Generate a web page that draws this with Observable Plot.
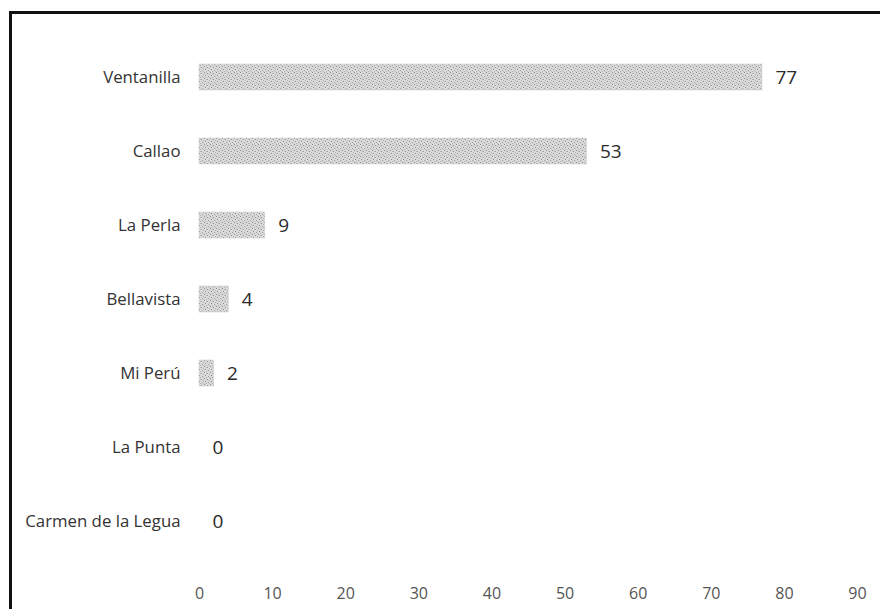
<!DOCTYPE html>
<html>
<head>
<meta charset="utf-8">
<script src="https://cdn.jsdelivr.net/npm/d3@7"></script>
<script src="https://cdn.jsdelivr.net/npm/@observablehq/plot@0.6"></script>
<style>
  html, body { margin: 0; padding: 0; background: #fff; }
  #wrap { position: relative; width: 880px; height: 609px; overflow: hidden; }
  #frame { position: absolute; left: 9px; top: 11px; width: 900px; height: 700px;
           border-left: 3px solid #111; border-top: 3px solid #111; pointer-events: none; }
  #chart { position: absolute; left: 0; top: 0; }
</style>
</head>
<body>
<div id="wrap">
  <div id="chart"></div>
  <div id="frame"></div>
</div>
<script>
const districts = ["Ventanilla", "Callao", "La Perla", "Bellavista", "Mi Perú", "La Punta", "Carmen de la Legua"];
const counts = [77, 53, 9, 4, 2, 0, 0];
const xTicks = [0, 10, 20, 30, 40, 50, 60, 70, 80, 90];

const data = districts.map((d, i) => ({district: d, value: counts[i]}));

const chart = Plot.plot({
  width: 880,
  height: 609,
  marginLeft: 199,
  marginRight: 23,
  marginTop: 39,
  marginBottom: 51,
  style: {fontFamily: "'Open Sans', 'Noto Sans', sans-serif", background: "transparent"},
  x: {domain: [0, 90], ticks: xTicks, label: null},
  y: {domain: districts, label: null, paddingInner: 0.65, paddingOuter: 0.325},
  marks: [
    Plot.barX(data, {y: "district", x: "value", fill: "url(#dither)", stroke: "#cfcfcf", strokeWidth: 0.6}),
    Plot.text(data, {y: "district", x: "value", text: d => String(d.value), dx: 13, textAnchor: "start",
      fontSize: 19, fill: "#2a2a2a"}),
    Plot.axisX({ticks: xTicks, tickSize: 0, tickPadding: 29, fontSize: 16, fill: "#555", label: null}),
    Plot.axisY({tickSize: 0, tickPadding: 19, fontSize: 16.8, fill: "#333", label: null})
  ]
});

// dithered gray pattern for the bars
const defs = d3.create("svg:defs");
const pat = defs.append("pattern").attr("id", "dither").attr("patternUnits", "userSpaceOnUse")
  .attr("width", 6).attr("height", 6);
pat.append("rect").attr("width", 6).attr("height", 6).attr("fill", "#dadada");
const dots = [[0,0,"#8c8c8c"],[3,1,"#9a9a9a"],[1,3,"#8c8c8c"],[4,4,"#a0a0a0"],[5,2,"#b0b0b0"],[2,5,"#b0b0b0"],[2,1,"#c0c0c0"],[5,5,"#c0c0c0"]];
for (const [x, y, c] of dots) pat.append("rect").attr("x", x).attr("y", y).attr("width", 1).attr("height", 1).attr("fill", c);
chart.insertBefore(defs.node(), chart.firstChild);

document.getElementById("chart").appendChild(chart);
</script>
</body>
</html>
